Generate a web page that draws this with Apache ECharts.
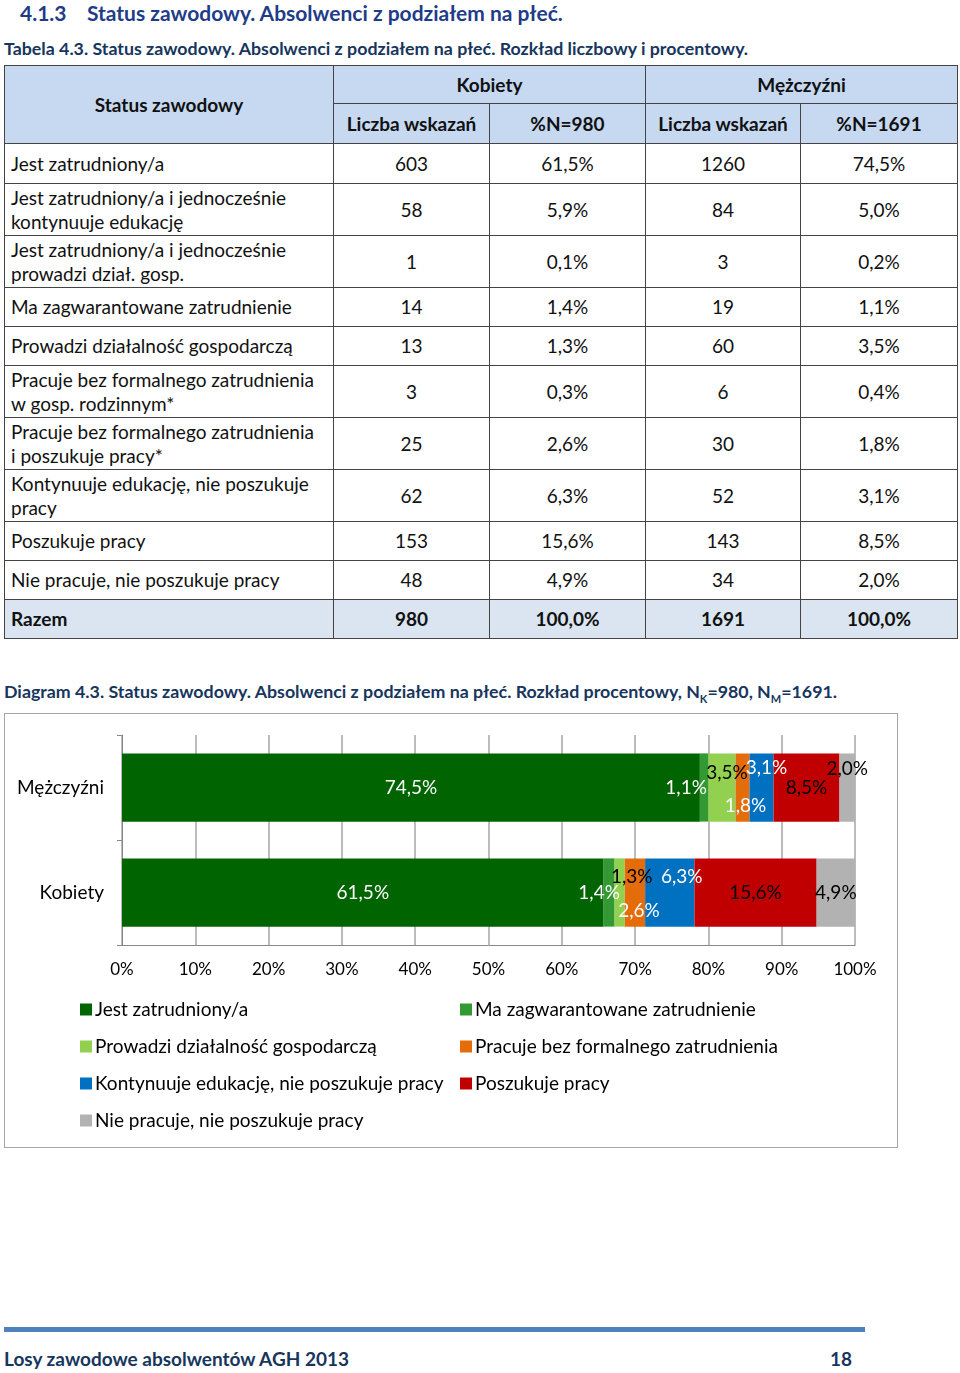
<!DOCTYPE html>
<html>
<head>
<meta charset="utf-8">
<script src="https://cdn.jsdelivr.net/npm/echarts@6/dist/echarts.min.js"></script>
<style>
  body { margin: 0; background: #fff; font-family: Lato, "Open Sans", sans-serif; }
  .page { position: relative; width: 960px; height: 1373px; }
  .h { position: absolute; left: 20px; top: 0px; font-size: 21px; font-weight: bold; color: #1f3c88; white-space: pre; }
  .cap { position: absolute; left: 4px; font-size: 17.8px; font-weight: bold; color: #17365d; white-space: nowrap; }
  table { position: absolute; left: 4px; top: 65px; border-collapse: collapse; font-size: 19px; color: #111; }
  td { border: 1.5px solid #444; padding: 0 6px; text-align: center; line-height: 24px; }
  td.l { text-align: left; }
  tr.hd td { background: #c6d9f1; font-weight: bold; }
  tr.tot td { background: #dbe5f1; font-weight: bold; }
  #chart { position: absolute; left: 4px; top: 713px; width: 892px; height: 433px; border: 1px solid #a6a6a6; }
  .foot { position: absolute; left: 4px; top: 1327px; width: 861px; height: 5px; background: #4f81bd; }
  .ft { position: absolute; top: 1347px; font-size: 19px; font-weight: bold; color: #17365d; }
</style>
</head>
<body>
<div class="page">
  <div class="h">4.1.3    Status zawodowy. Absolwenci z podziałem na płeć.</div>
  <div class="cap" style="top:37px">Tabela 4.3. Status zawodowy. Absolwenci z podziałem na płeć. Rozkład liczbowy i procentowy.</div>
  <table id="tab"></table>
  <div class="cap" style="top:680px">Diagram 4.3. Status zawodowy. Absolwenci z podziałem na płeć. Rozkład procentowy, N<sub style="font-size:11px">K</sub>=980, N<sub style="font-size:11px">M</sub>=1691.</div>
  <div id="chart"></div>
  <div class="foot"></div>
  <div class="ft" style="left:4px">Losy zawodowe absolwentów AGH 2013</div>
  <div class="ft" style="left:830px">18</div>
</div>
<script>
// tabela
const rowLabels = [
  'Jest zatrudniony/a',
  'Jest zatrudniony/a i jednocześnie<br>kontynuuje edukację',
  'Jest zatrudniony/a i jednocześnie<br>prowadzi dział. gosp.',
  'Ma zagwarantowane zatrudnienie',
  'Prowadzi działalność gospodarczą',
  'Pracuje bez formalnego zatrudnienia<br>w gosp. rodzinnym*',
  'Pracuje bez formalnego zatrudnienia<br>i poszukuje pracy*',
  'Kontynuuje edukację, nie poszukuje<br>pracy',
  'Poszukuje pracy',
  'Nie pracuje, nie poszukuje pracy'
]
const rowHeights = [40, 52, 52, 39, 39, 52, 52, 52, 39, 39]
const kN = ['603', '58', '1', '14', '13', '3', '25', '62', '153', '48']
const kP = ['61,5%', '5,9%', '0,1%', '1,4%', '1,3%', '0,3%', '2,6%', '6,3%', '15,6%', '4,9%']
const mN = ['1260', '84', '3', '19', '60', '6', '30', '52', '143', '34']
const mP = ['74,5%', '5,0%', '0,2%', '1,1%', '3,5%', '0,4%', '1,8%', '3,1%', '8,5%', '2,0%']

let html = '<tr class="hd" style="height:38px"><td rowspan="2" style="width:316px">Status zawodowy</td>' +
  '<td colspan="2">Kobiety</td><td colspan="2">Mężczyźni</td></tr>' +
  '<tr class="hd" style="height:40px"><td style="width:143px">Liczba wskazań</td><td style="width:143px">%N=980</td>' +
  '<td style="width:142px">Liczba wskazań</td><td style="width:144px">%N=1691</td></tr>'
rowLabels.forEach((r, i) => {
  html += '<tr style="height:' + rowHeights[i] + 'px"><td class="l">' + r + '</td><td>' + kN[i] +
    '</td><td>' + kP[i] + '</td><td>' + mN[i] + '</td><td>' + mP[i] + '</td></tr>'
})
html += '<tr class="tot" style="height:39px"><td class="l">Razem</td><td>980</td><td>100,0%</td><td>1691</td><td>100,0%</td></tr>'
document.getElementById('tab').innerHTML = html

// wykres
const categories = ['Kobiety', 'Mężczyźni']
const seriesNames = [
  'Jest zatrudniony/a',
  'Ma zagwarantowane zatrudnienie',
  'Prowadzi działalność gospodarczą',
  'Pracuje bez formalnego zatrudnienia',
  'Kontynuuje edukację, nie poszukuje pracy',
  'Poszukuje pracy',
  'Nie pracuje, nie poszukuje pracy'
]
const colors = ['#006400', '#339933', '#92d050', '#e46c0a', '#0070c0', '#c00000', '#b2b2b2']
// [Kobiety, Mężczyźni]
const jestZatr = [61.5, 74.5]
const maZagw = [1.4, 1.1]
const prowadzi = [1.3, 3.5]
const bezFormal = [2.6, 1.8]
const kontynuuje = [6.3, 3.1]
const poszukuje = [15.6, 8.5]
const niePracuje = [4.9, 2.0]
const xTicks = [0, 10, 20, 30, 40, 50, 60, 70, 80, 90, 100]

const values = [jestZatr, maZagw, prowadzi, bezFormal, kontynuuje, poszukuje, niePracuje]
// wykres 100% skumulowany
const totals = categories.map((c, j) => values.reduce((s, v) => s + v[j], 0))

// przesunięcia etykiet [Kobiety, Mężczyźni]
const labelOffsets = [
  [[0, 0], [0, 0]],
  [[-10, 0], [-18, 0]],
  [[12, -16], [5, -15]],
  [[4, 18], [3, 18]],
  [[12, -16], [5, -20]],
  [[0, 0], [0, 0]],
  [[0, 0], [0, -19]]
]
const labelColors = [
  ['#fff', '#fff'],
  ['#fff', '#fff'],
  ['#000', '#000'],
  ['#fff', '#fff'],
  ['#fff', '#fff'],
  ['#000', '#000'],
  ['#000', '#000']
]

const font = 'Lato, "Open Sans", sans-serif'
const series = seriesNames.map((name, i) => ({
  name: name,
  type: 'bar',
  stack: 'all',
  barWidth: '65%',
  itemStyle: { color: colors[i] },
  data: values[i].map((v, j) => ({
    value: v / totals[j] * 100,
    label: {
      show: true,
      position: 'inside',
      offset: labelOffsets[i][j],
      color: labelColors[i][j],
      fontSize: 19,
      fontFamily: font,
      formatter: () => v.toFixed(1).replace('.', ',') + '%'
    }
  }))
}))

const chart = echarts.init(document.getElementById('chart'))
chart.setOption({
  animation: false,
  textStyle: { fontFamily: font },
  grid: { left: 117, top: 21, width: 733, height: 210 },
  xAxis: {
    type: 'value',
    min: xTicks[0],
    max: xTicks[xTicks.length - 1],
    interval: 10,
    axisLabel: { formatter: '{value}%', fontSize: 17, color: '#000', margin: 16 },
    axisLine: { show: true, lineStyle: { color: '#888' } },
    axisTick: { show: false },
    splitLine: { show: true, lineStyle: { color: '#a6a6a6', width: 1.5 } }
  },
  yAxis: {
    type: 'category',
    data: categories,
    axisLabel: { fontSize: 19, color: '#000', margin: 18 },
    axisLine: { show: true, lineStyle: { color: '#888' } },
    axisTick: { show: true, length: 5, lineStyle: { color: '#888' } }
  },
  legend: [
    {
      orient: 'vertical', left: 70, top: 281, itemGap: 18,
      itemWidth: 12, itemHeight: 12, icon: 'rect',
      textStyle: { fontSize: 19, color: '#000', padding: [0, 0, 0, -2] },
      data: [seriesNames[0], seriesNames[2], seriesNames[4], seriesNames[6]]
    },
    {
      orient: 'vertical', left: 450, top: 281, itemGap: 18,
      itemWidth: 12, itemHeight: 12, icon: 'rect',
      textStyle: { fontSize: 19, color: '#000', padding: [0, 0, 0, -2] },
      data: [seriesNames[1], seriesNames[3], seriesNames[5]]
    }
  ],
  series: series
})
</script>
</body>
</html>
